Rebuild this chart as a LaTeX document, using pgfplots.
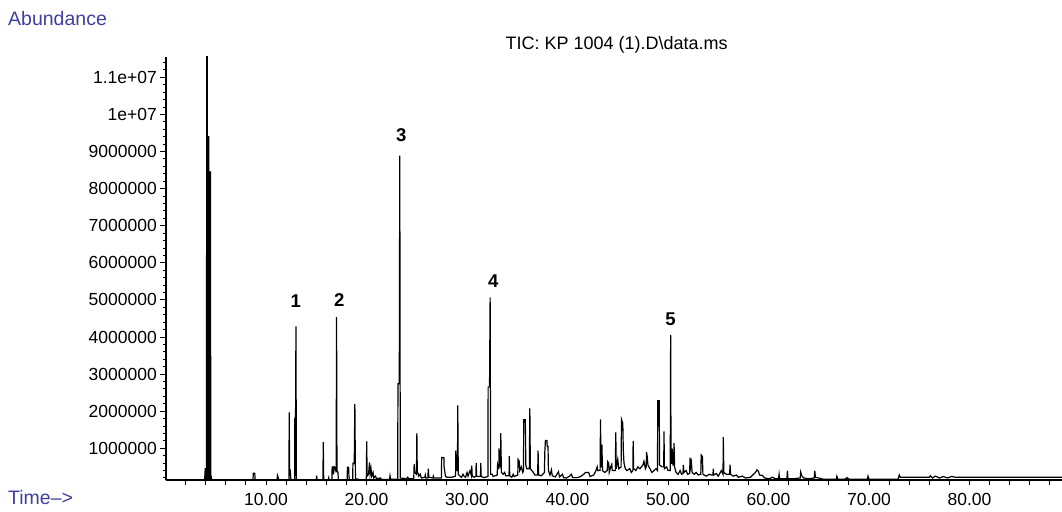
\documentclass[border=0pt]{standalone}
\usepackage{fontspec}
\setmainfont{Liberation Sans}
\usepackage{pgfplots}
\pgfplotsset{compat=1.18}
\definecolor{labblue}{HTML}{3F3F9F}

% TIC trace, time in min, abundance in millions
\pgfplotstableread{
t y
0.00 0.15
3.90 0.15
3.95 0.45
4.08 0.45
4.10 13.0
4.14 13.0
4.16 9.40
4.30 9.40
4.30 8.45
4.48 8.45
4.50 0.30
4.60 0.15
8.70 0.15
8.74 0.33
8.88 0.33
8.92 0.15
11.10 0.15
11.14 0.27
11.20 0.22
11.26 0.15
12.28 0.15
12.31 1.97
12.35 0.30
12.42 0.36
12.48 0.15
12.85 0.15
12.87 1.82
12.94 1.82
12.98 4.29
13.02 0.15
15.00 0.15
15.04 0.26
15.08 0.15
15.66 0.15
15.70 1.17
15.74 0.15
16.20 0.15
16.24 0.20
16.28 0.15
16.56 0.15
16.58 0.50
16.70 0.50
16.72 0.30
16.80 0.50
16.90 0.48
16.98 0.35
17.02 4.54
17.06 0.40
17.16 0.35
17.20 0.15
18.08 0.15
18.10 0.49
18.22 0.49
18.25 0.25
18.30 0.15
18.62 0.15
18.65 0.60
18.78 0.60
18.84 2.20
18.90 0.18
19.50 0.15
19.98 0.15
20.02 1.19
20.06 0.25
20.20 0.30
20.30 0.62
20.36 0.30
20.45 0.45
20.52 0.25
20.65 0.35
20.72 0.20
20.90 0.25
21.00 0.18
21.40 0.20
21.50 0.16
22.30 0.16
22.34 0.26
22.40 0.17
23.10 0.17
23.13 2.74
23.26 2.74
23.31 8.89
23.36 0.20
24.00 0.18
24.10 0.22
24.20 0.18
24.70 0.18
24.74 0.57
24.80 0.35
24.97 0.30
25.01 1.41
25.05 0.35
25.15 0.32
25.20 0.25
25.35 0.30
25.45 0.20
25.80 0.22
25.85 0.28
25.90 0.20
26.10 0.20
26.15 0.45
26.20 0.22
26.60 0.20
26.65 0.25
26.70 0.20
27.45 0.20
27.48 0.75
27.70 0.75
27.72 0.50
27.78 0.40
27.85 0.25
28.00 0.22
28.50 0.22
28.86 0.25
28.88 0.94
28.95 0.40
29.05 0.40
29.08 2.16
29.13 0.30
29.30 0.25
29.45 0.22
29.60 0.30
29.70 0.25
29.85 0.22
30.00 0.35
30.10 0.25
30.30 0.40
30.44 0.26
30.47 0.53
30.52 0.25
30.70 0.22
30.88 0.25
30.91 0.60
30.96 0.25
31.10 0.24
31.34 0.24
31.37 0.60
31.41 0.24
31.70 0.21
32.08 0.24
32.10 2.65
32.24 2.65
32.30 5.07
32.35 0.30
32.50 0.30
32.60 0.24
33.00 0.28
33.04 0.55
33.12 0.45
33.17 0.45
33.19 1.00
33.26 0.50
33.33 0.50
33.36 1.41
33.42 0.35
33.60 0.30
33.75 0.35
33.85 0.26
34.18 0.26
34.21 0.79
34.25 0.26
34.45 0.22
34.60 0.30
34.70 0.24
35.05 0.28
35.08 0.70
35.20 0.65
35.25 0.40
35.40 0.50
35.55 0.35
35.62 0.40
35.64 1.77
35.80 1.77
35.85 0.55
35.95 0.45
36.20 0.45
36.25 2.08
36.30 0.45
36.45 0.40
36.60 0.35
36.75 0.28
37.03 0.28
37.07 0.94
37.12 0.28
37.40 0.26
37.70 0.35
37.74 0.90
37.80 1.21
37.95 1.21
37.98 1.05
38.06 1.05
38.10 0.40
38.25 0.28
38.40 0.42
38.48 0.26
38.80 0.23
39.10 0.37
39.20 0.23
39.50 0.30
39.60 0.21
39.90 0.20
40.20 0.25
40.40 0.30
40.50 0.21
41.00 0.21
41.30 0.24
41.60 0.30
41.80 0.35
42.10 0.35
42.25 0.24
42.60 0.28
42.80 0.38
42.95 0.50
43.00 0.40
43.24 0.40
43.28 1.78
43.33 0.50
43.38 0.50
43.42 1.10
43.48 0.40
43.70 0.35
43.95 0.40
44.00 0.64
44.10 0.60
44.15 0.35
44.30 0.50
44.40 0.57
44.45 0.40
44.76 0.40
44.80 1.43
44.85 0.45
45.00 0.70
45.10 0.45
45.33 0.50
45.37 1.78
45.50 1.67
45.55 0.95
45.62 0.60
45.75 0.45
45.90 0.40
46.20 0.45
46.35 0.35
46.50 0.40
46.53 1.20
46.58 0.45
46.80 0.40
47.00 0.50
47.20 0.45
47.50 0.55
47.60 0.65
47.75 0.45
47.83 0.50
47.86 0.90
47.92 0.80
48.00 0.55
48.20 0.45
48.40 0.35
48.60 0.40
48.80 0.45
48.95 0.40
48.98 2.28
49.12 2.28
49.16 0.55
49.40 0.50
49.57 0.50
49.60 1.46
49.64 0.45
49.85 0.50
50.00 0.40
50.22 0.40
50.26 4.06
50.30 0.60
50.38 0.60
50.42 0.99
50.50 0.55
50.57 0.55
50.60 1.14
50.65 0.50
50.80 0.35
51.00 0.30
51.20 0.40
51.35 0.30
51.49 0.32
51.52 0.55
51.58 0.35
51.80 0.40
51.95 0.30
52.15 0.32
52.19 0.75
52.25 0.50
52.32 0.62
52.40 0.35
52.60 0.30
52.80 0.35
53.00 0.28
53.26 0.30
53.30 0.82
53.42 0.78
53.47 0.30
53.80 0.25
54.10 0.30
54.30 0.28
54.47 0.28
54.50 0.45
54.55 0.28
54.80 0.32
55.00 0.25
55.30 0.40
55.47 0.30
55.50 1.30
55.55 0.35
55.80 0.30
56.13 0.30
56.17 0.56
56.22 0.30
56.50 0.25
56.80 0.28
57.00 0.22
57.40 0.25
57.70 0.20
58.20 0.22
58.50 0.30
58.70 0.35
58.85 0.42
59.00 0.38
59.10 0.28
59.40 0.27
59.60 0.20
60.10 0.18
60.40 0.22
60.70 0.18
61.00 0.18
61.05 0.30
61.10 0.18
61.83 0.18
61.88 0.40
61.93 0.18
62.50 0.18
63.15 0.20
63.20 0.36
63.30 0.26
63.50 0.20
64.00 0.18
64.55 0.20
64.60 0.40
64.66 0.22
65.00 0.20
65.40 0.17
66.75 0.17
66.80 0.25
66.90 0.17
67.60 0.17
67.80 0.21
68.00 0.17
69.85 0.17
69.90 0.25
70.00 0.17
72.90 0.17
73.00 0.28
73.10 0.22
76.00 0.22
76.10 0.26
76.30 0.20
76.60 0.25
77.00 0.20
77.40 0.24
77.80 0.20
78.20 0.24
78.60 0.22
89.20 0.22
}\tictrace

\begin{document}
\begin{tikzpicture}
\begin{axis}[
  at={(165.5pt,31pt)}, anchor=south west,
  width=896.5pt, height=423pt, scale only axis,
  xmin=0, xmax=89.2, ymin=0.146, ymax=11.55,
  axis x line=bottom, axis y line=left,
  axis line style={-, line width=2pt},
  tick align=outside,
  tick style={black, line width=1pt},
  major tick length=5pt, minor tick length=3pt,
  xtick={2,4,...,88},
  xticklabels={,,,,10.00,,,,,20.00,,,,,30.00,,,,,40.00,,,,,50.00,,,,,60.00,,,,,70.00,,,,,80.00,,,,},
  ytick={1,2,...,11},
  yticklabels={1000000,2000000,3000000,4000000,5000000,6000000,7000000,8000000,9000000,1e+07,1.1e+07},
  minor ytick={0.2,0.4,...,11.4},
  xticklabel style={font=\fontsize{17.5}{20}\selectfont, inner sep=0pt, anchor=north, yshift=-8pt},
  yticklabel style={font=\fontsize{17.5}{20}\selectfont, inner sep=0pt, anchor=east, xshift=-3.5pt},
]
% the solvent peak is a solid block of scans
\addplot[fill=black, draw=none, restrict x to domain=3.9:4.6] table[x=t, y=y] {\tictrace} \closedcycle;
\addplot[black, line width=1.2pt, sharp plot] table[x=t, y=y] {\tictrace};
\node[font=\fontsize{18.5}{20}\selectfont\bfseries] at (axis cs:12.97,4.98) {1};
\node[font=\fontsize{18.5}{20}\selectfont\bfseries] at (axis cs:17.28,5.00) {2};
\node[font=\fontsize{18.5}{20}\selectfont\bfseries] at (axis cs:23.46,9.45) {3};
\node[font=\fontsize{18.5}{20}\selectfont\bfseries] at (axis cs:32.62,5.51) {4};
\node[font=\fontsize{18.5}{20}\selectfont\bfseries] at (axis cs:50.25,4.49) {5};
\end{axis}
\node[anchor=west, inner sep=0pt, text=labblue, font=\fontsize{19.5}{21}\selectfont] at (8pt,492pt) {Abundance};
\node[anchor=west, inner sep=0pt, text=labblue, font=\fontsize{19.5}{21}\selectfont] at (8pt,13pt) {Time-->};
\node[inner sep=0pt, font=\fontsize{18}{20}\selectfont] at (616.7pt,466pt) {TIC: KP 1004 (1).D\textbackslash data.ms};
\pgfresetboundingbox
\path[use as bounding box] (0pt,0pt) rectangle (1062pt,511pt);
\end{tikzpicture}
\end{document}
